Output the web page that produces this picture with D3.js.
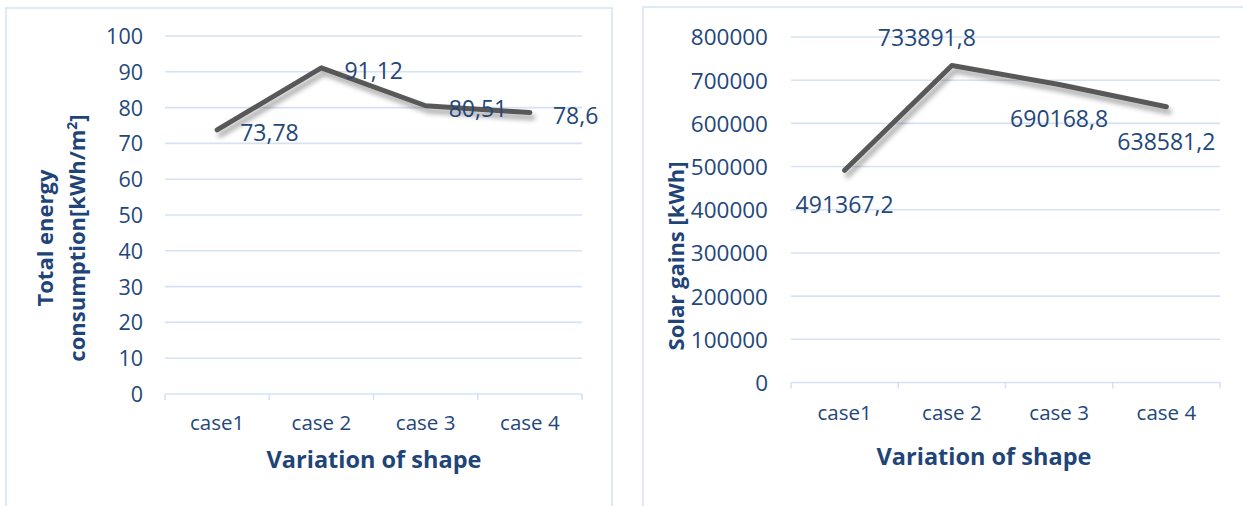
<!DOCTYPE html>
<html>
<head>
<meta charset="utf-8">
<script src="https://cdn.jsdelivr.net/npm/d3@7"></script>
<style>
  html, body { margin: 0; padding: 0; background: #ffffff; }
  svg { display: block; }
  text { font-family: "Open Sans", "Noto Sans", sans-serif; }
</style>
</head>
<body>
<svg id="chart" width="1243" height="506"></svg>
<script>
// ---------- DATA ----------
const categories = ["case1", "case 2", "case 3", "case 4"];
const energyValues = [73.78, 91.12, 80.51, 78.6];
const energyLabels = ["73,78", "91,12", "80,51", "78,6"];
const energyTicks = [0, 10, 20, 30, 40, 50, 60, 70, 80, 90, 100];
const solarValues = [491367.2, 733891.8, 690168.8, 638581.2];
const solarLabels = ["491367,2", "733891,8", "690168,8", "638581,2"];
const solarTicks = [0, 100000, 200000, 300000, 400000, 500000, 600000, 700000, 800000];
const xTitle = "Variation of shape";

// ---------- STYLE ----------
const textColor = "#24477a";
const titleColor = "#1f4478";
const gridColor = "#d6e2f3";
const lineColor = "#595959";

const svg = d3.select("#chart");

const defs = svg.append("defs");
const f = defs.append("filter").attr("id", "shadow")
  .attr("x", "-20%").attr("y", "-50%").attr("width", "140%").attr("height", "200%");
f.append("feDropShadow").attr("dx", 3).attr("dy", 5).attr("stdDeviation", 2.5)
  .attr("flood-color", "#000").attr("flood-opacity", 0.35);

// panel borders
svg.append("rect").attr("x", 6).attr("y", 8).attr("width", 606).attr("height", 520)
  .attr("fill", "none").attr("stroke", gridColor).attr("stroke-width", 1.5);
svg.append("rect").attr("x", 643).attr("y", 7).attr("width", 620).attr("height", 520)
  .attr("fill", "none").attr("stroke", gridColor).attr("stroke-width", 1.5);

function drawChart(cfg) {
  const g = svg.append("g");
  const x = d3.scaleBand().domain(categories).range([cfg.x0, cfg.x1]);
  const y = d3.scaleLinear().domain([0, cfg.yMax]).range([cfg.y0, cfg.y1]);

  // gridlines
  g.append("g").selectAll("line").data(cfg.ticks.filter(t => t > 0)).join("line")
    .attr("x1", cfg.x0).attr("x2", cfg.x1)
    .attr("y1", d => y(d)).attr("y2", d => y(d))
    .attr("stroke", gridColor).attr("stroke-width", 1.6);

  // y axis labels
  const yAxis = d3.axisLeft(y).tickValues(cfg.ticks).tickSize(0).tickPadding(0)
    .tickFormat(d3.format("d"));
  const ya = g.append("g").attr("transform", `translate(${cfg.tickRight},0)`).call(yAxis);
  ya.select(".domain").remove();
  ya.selectAll("text").attr("font-size", cfg.tickSize).attr("fill", textColor)
    .attr("font-family", "'Open Sans', sans-serif").attr("dy", "0.35em");

  // x axis
  const xAxis = d3.axisBottom(x).tickSize(0).tickPadding(0);
  const xa = g.append("g").attr("transform", `translate(0,${cfg.y0})`).call(xAxis);
  xa.select(".domain").attr("stroke", gridColor).attr("stroke-width", 1.6)
    .attr("d", `M${cfg.x0},0H${cfg.x1}`);
  xa.selectAll("text").attr("font-size", 20.5).attr("fill", textColor)
    .attr("font-family", "'Open Sans', sans-serif")
    .attr("y", cfg.catOffset).attr("dy", "0.35em");
  // band boundary tick marks
  const bounds = categories.map(c => x(c)).concat([cfg.x1]);
  g.append("g").selectAll("line").data(bounds).join("line")
    .attr("x1", d => d).attr("x2", d => d)
    .attr("y1", cfg.y0).attr("y2", cfg.y0 + 6)
    .attr("stroke", gridColor).attr("stroke-width", 1.6);

  // line
  const line = d3.line()
    .x((d, i) => x(categories[i]) + x.bandwidth() / 2)
    .y(d => y(d));
  g.append("path").datum(cfg.values)
    .attr("d", line).attr("fill", "none")
    .attr("stroke", lineColor).attr("stroke-width", 5)
    .attr("stroke-linejoin", "round").attr("stroke-linecap", "round")
    .attr("filter", "url(#shadow)");

  // data labels
  g.append("g").selectAll("text").data(cfg.values).join("text")
    .attr("x", (d, i) => x(categories[i]) + x.bandwidth() / 2 + cfg.labelPos[i].dx)
    .attr("y", (d, i) => y(d) + cfg.labelPos[i].dy)
    .attr("dy", "0.35em")
    .attr("text-anchor", (d, i) => cfg.labelPos[i].anchor)
    .attr("font-size", 23).attr("fill", textColor)
    .text((d, i) => cfg.labels[i]);

  // x title
  g.append("text").attr("x", cfg.xTitleX).attr("y", cfg.xTitleY)
    .attr("text-anchor", "middle").attr("font-size", 23.5).attr("font-weight", 700)
    .attr("fill", titleColor).text(xTitle);

  // y title
  const yt = g.append("text")
    .attr("transform", `translate(${cfg.yTitleX},${cfg.yTitleY}) rotate(-90)`)
    .attr("text-anchor", "middle").attr("font-size", 22).attr("font-weight", 700)
    .attr("fill", titleColor);
  cfg.yTitle(yt);
}

drawChart({
  x0: 165, x1: 582, y0: 394, y1: 36, yMax: 100,
  ticks: energyTicks, tickRight: 143, tickSize: 21.5,
  values: energyValues, labels: energyLabels,
  labelPos: energyValues.map(() => ({ dx: 23, dy: 3, anchor: "start" })),
  catOffset: 29,
  xTitleX: 374, xTitleY: 468,
  yTitleX: 53, yTitleY: 238,
  yTitle: t => {
    t.append("tspan").attr("x", 0).attr("dy", 0).text("Total energy");
    const l2 = t.append("tspan").attr("x", 0).attr("dy", 32);
    l2.append("tspan").text("consumption[kWh/m");
    l2.append("tspan").attr("font-size", 14).attr("dy", -8).text("2");
    l2.append("tspan").attr("dy", 8).text("]");
  }
});

drawChart({
  x0: 791, x1: 1220, y0: 382.5, y1: 37, yMax: 800000,
  ticks: solarTicks, tickRight: 768, tickSize: 22.5,
  values: solarValues, labels: solarLabels,
  labelPos: [
    { dx: 0, dy: 35, anchor: "middle" },
    { dx: -25, dy: -28, anchor: "middle" },
    { dx: 0, dy: 35, anchor: "middle" },
    { dx: 0, dy: 35, anchor: "middle" }
  ],
  catOffset: 30.5,
  xTitleX: 984, xTitleY: 465,
  yTitleX: 684, yTitleY: 256,
  yTitle: t => { t.text("Solar gains [kWh]"); }
});
</script>
</body>
</html>
